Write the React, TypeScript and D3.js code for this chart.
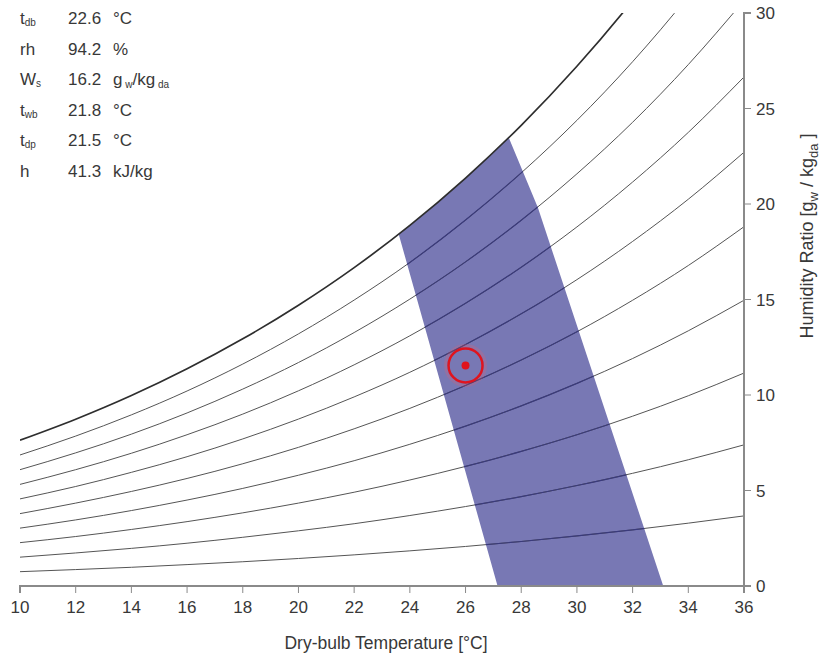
import React from 'react';
import * as d3 from 'd3';

// Dry-bulb temperature grid (°C) at which the relative-humidity curves are given
const temperatures = [10, 12, 14, 16, 18, 20, 22, 24, 26, 28, 30, 32, 34, 36];
// Humidity ratio (g_w / kg_da) along each relative-humidity curve
const rh10 = [0.75, 0.86, 0.98, 1.12, 1.27, 1.44, 1.63, 1.84, 2.07, 2.33, 2.62, 2.94, 3.29, 3.67];
const rh20 = [1.51, 1.73, 1.97, 2.24, 2.55, 2.89, 3.26, 3.69, 4.16, 4.68, 5.26, 5.9, 6.61, 7.39];
const rh30 = [2.27, 2.59, 2.96, 3.37, 3.83, 4.34, 4.91, 5.55, 6.26, 7.05, 7.92, 8.89, 9.96, 11.15];
const rh40 = [3.03, 3.46, 3.95, 4.5, 5.11, 5.8, 6.56, 7.42, 8.37, 9.43, 10.61, 11.91, 13.36, 14.96];
const rh50 = [3.79, 4.34, 4.95, 5.63, 6.4, 7.26, 8.23, 9.3, 10.5, 11.83, 13.31, 14.96, 16.78, 18.81];
const rh60 = [4.56, 5.21, 5.95, 6.77, 7.7, 8.74, 9.9, 11.19, 12.64, 14.25, 16.04, 18.04, 20.25, 22.71];
const rh70 = [5.32, 6.09, 6.95, 7.92, 9.0, 10.22, 11.58, 13.1, 14.8, 16.69, 18.8, 21.15, 23.75, 26.65];
const rh80 = [6.09, 6.97, 7.95, 9.06, 10.31, 11.7, 13.27, 15.02, 16.97, 19.15, 21.58, 24.28, 27.3, 30.65];
const rh90 = [6.86, 7.85, 8.96, 10.21, 11.62, 13.2, 14.97, 16.94, 19.16, 21.63, 24.38, 27.45, 30.88, 34.69];
const rh100 = [7.63, 8.73, 9.97, 11.37, 12.94, 14.7, 16.67, 18.88, 21.36, 24.12, 27.21, 30.65, 34.5, 38.79];
const rhCurves = [rh10, rh20, rh30, rh40, rh50, rh60, rh70, rh80, rh90];

// Comfort zone polygon (dry-bulb °C, humidity ratio g/kg)
const bandTemps = [23.6, 24, 25, 26, 27, 27.55, 28.6, 33.1, 27.15];
const bandW = [18.42, 18.88, 20.09, 21.36, 22.7, 23.48, 19.8, 0, 0];

// Current state point
const pointTemp = [26.0];
const pointW = [11.55];

// Axis ticks
const xTicks = [10, 12, 14, 16, 18, 20, 22, 24, 26, 28, 30, 32, 34, 36];
const yTicks = [0, 5, 10, 15, 20, 25, 30];

// Info panel
const infoLabels = ['t', 'rh', 'W', 't', 't', 'h'];
const infoSubs = ['db', '', 's', 'wb', 'dp', ''];
const infoValues = ['22.6', '94.2', '16.2', '21.8', '21.5', '41.3'];
const infoUnits = ['°C', '%', 'g|w|/kg|da', '°C', '°C', 'kJ/kg'];

const W = 831;
const H = 661;
const FONT = '"Liberation Sans", Arial, sans-serif';

export default function App() {
  const x = d3.scaleLinear().domain([10, 36]).range([20, 744]);
  const y = d3.scaleLinear().domain([0, 30]).range([586, 13]);

  const line = d3
    .line<number>()
    .x((_, i) => x(temperatures[i]))
    .y((d) => y(d))
    .curve(d3.curveMonotoneX);

  const bandPath = d3
    .line<number>()
    .x((_, i) => x(bandTemps[i]))
    .y((d) => y(d))(bandW) + 'Z';

  const axisColor = '#8a8a8a';
  const textColor = '#383838';
  const [x0, x1] = x.range();
  const [y0, y1] = y.range();

  const renderUnit = (u: string) => {
    if (u.includes('|')) {
      const parts = u.split('|');
      return (
        <>
          <tspan>{parts[0]}</tspan>
          <tspan fontSize={10} dy={3}> {parts[1]}</tspan>
          <tspan dy={-3}>{parts[2]}</tspan>
          <tspan fontSize={10} dy={3}> {parts[3]}</tspan>
        </>
      );
    }
    return u;
  };

  return (
    <svg
      width={W}
      height={H}
      style={{ position: 'absolute', left: 0, top: 0, background: '#fff' }}
      fontFamily={FONT}
    >
      <defs>
        <clipPath id="plot">
          <rect x={x0} y={y1} width={x1 - x0} height={y0 - y1} />
        </clipPath>
        <clipPath id="band">
          <path d={bandPath} />
        </clipPath>
      </defs>

      <g clipPath="url(#plot)">
        <path d={bandPath} fill="rgb(120,120,180)" />
        {rhCurves.map((c, i) => (
          <path key={i} d={line(c) || ''} fill="none" stroke="#555" strokeWidth={1} />
        ))}
        <g clipPath="url(#band)">
          {rhCurves.map((c, i) => (
            <path key={i} d={line(c) || ''} fill="none" stroke="#3a3a7c" strokeWidth={1.2} />
          ))}
        </g>
        <path d={line(rh100) || ''} fill="none" stroke="#2e2e2e" strokeWidth={1.7} />
      </g>

      {/* state point */}
      {pointTemp.map((t, i) => (
        <g key={i}>
          <circle cx={x(t)} cy={y(pointW[i])} r={20} fill="none" stroke="rgba(255,90,90,0.2)" strokeWidth={3} />
          <circle cx={x(t)} cy={y(pointW[i])} r={17} fill="none" stroke="#e0141e" strokeWidth={2.5} />
          <circle cx={x(t)} cy={y(pointW[i])} r={4} fill="#e0141e" />
        </g>
      ))}

      {/* x axis */}
      <g fill="none" stroke={axisColor}>
        <path d={`M${x0},${y0 + 7}V${y0}H${x1}V${y0 + 7}`} strokeWidth={2} />
        {xTicks.map((t) => (
          <line key={t} x1={x(t)} x2={x(t)} y1={y0} y2={y0 + 7} strokeWidth={1} />
        ))}
      </g>
      {xTicks.map((t) => (
        <text key={t} x={x(t)} y={y0 + 27} textAnchor="middle" fontSize={17} fill={textColor}>
          {t}
        </text>
      ))}
      <text x={(x0 + x1) / 2 + 4} y={649} textAnchor="middle" fontSize={17.5} fill={textColor}>
        Dry-bulb Temperature [°C]
      </text>

      {/* y axis (right) */}
      <g fill="none" stroke={axisColor}>
        <path d={`M${x1 + 7},${y1}H${x1}V${y0}H${x1 + 7}`} strokeWidth={2} />
        {yTicks.map((t) => (
          <line key={t} x1={x1} x2={x1 + 7} y1={y(t)} y2={y(t)} strokeWidth={1} />
        ))}
      </g>
      {yTicks.map((t) => (
        <text key={t} x={x1 + 12} y={y(t) + 6} textAnchor="start" fontSize={17} fill={textColor}>
          {t}
        </text>
      ))}
      <text
        transform={`translate(813,236) rotate(-90)`}
        textAnchor="middle"
        fontSize={18}
        fill={textColor}
      >
        Humidity Ratio [g<tspan fontSize={13} dy={5}>w</tspan>
        <tspan dy={-5}> / kg</tspan>
        <tspan fontSize={13} dy={5}>da</tspan>
        <tspan dy={-5}> ]</tspan>
      </text>

      {/* info panel */}
      {infoLabels.map((l, i) => {
        const by = 24 + i * 30.5;
        return (
          <g key={i} fill={textColor} fontSize={17}>
            <text x={20} y={by}>
              {l}
              {infoSubs[i] && (
                <tspan fontSize={10} dy={2}>
                  {infoSubs[i]}
                </tspan>
              )}
            </text>
            <text x={68} y={by}>{infoValues[i]}</text>
            <text x={113} y={by}>{renderUnit(infoUnits[i])}</text>
          </g>
        );
      })}
    </svg>
  );
}
